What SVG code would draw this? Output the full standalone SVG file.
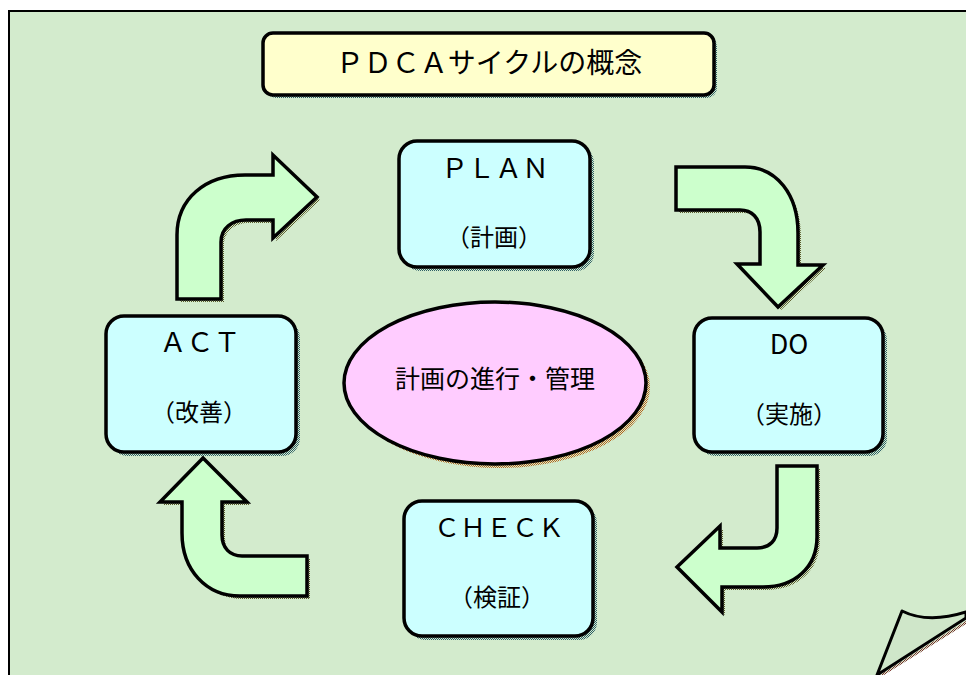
<svg xmlns="http://www.w3.org/2000/svg" xmlns:xlink="http://www.w3.org/1999/xlink" width="966" height="675" viewBox="0 0 966 675">
<defs>
<pattern id="shTeal" x="0" y="0" width="2" height="2" patternUnits="userSpaceOnUse">
<rect width="1" height="1" fill="#2f5f66"/>
<rect x="1" y="1" width="1" height="1" fill="#2f5f66"/>
</pattern>
<pattern id="shOlive" x="0" y="0" width="2" height="2" patternUnits="userSpaceOnUse">
<rect width="1" height="1" fill="#5a5a2a"/>
<rect x="1" y="1" width="1" height="1" fill="#5a5a2a"/>
</pattern>
<pattern id="shBrown" x="0" y="0" width="2" height="2" patternUnits="userSpaceOnUse">
<rect width="1" height="1" fill="#b5651d"/>
<rect x="1" y="1" width="1" height="1" fill="#b5651d"/>
</pattern>
<pattern id="shRed" x="0" y="0" width="2" height="2" patternUnits="userSpaceOnUse">
<rect width="1" height="1" fill="#7a2a2a"/>
<rect x="1" y="1" width="1" height="1" fill="#7a2a2a"/>
</pattern>
<path id="a1" d="M177,299 L177,235 C177,199 205,175 245,175 L273,175 L273,155 L317,197 L273,238 L273,220 L246,220 C232,220 221,228 221,242 L221,299 Z"/>
<path id="a2" d="M676,167 L745,167 C777,167 798,195 798,233 L798,265 L823,265 L778,307 L737,264 L760,264 L760,232 C760,218 752,210 740,210 L676,210 Z"/>
<path id="a3" d="M777,466 L817,466 L817,537 C817,567 795,587 763,587 L722,587 L722,612 L677,567 L720,526 L720,548 L757,548 C770,548 777,540 777,528 Z"/>
<path id="a4" d="M203,458 L247,502 L222,502 L222,535 C222,548 230,556 242,556 L307,556 L307,596 L240,596 C206,596 182,570 182,533 L182,502 L160,502 Z"/>
</defs>
<style>
.box{fill:#ccffff;stroke:#000;stroke-width:3.5}
.shb{fill:url(#shTeal)}
.arr{fill:#ccffcc;stroke:#000;stroke-width:3.5;stroke-linejoin:miter}
.sha{fill:url(#shOlive)}
.pg{fill:#d3ebcd}
.t{font-family:"Noto Sans CJK JP","Noto Sans",sans-serif;font-weight:400;fill:#000;text-anchor:middle}
</style>

<g id="page">
<rect x="9" y="11" width="975" height="690" class="pg" stroke="#000" stroke-width="2"/>
<path d="M880,675 L966,621 L966,675 Z" fill="url(#shRed)"/>
<path d="M884,675 L966,624 L966,675 Z" fill="#fff"/>
<path d="M877,675 L902,611 Q928,624 966,612 L966,618 Z" fill="#cfe6c9" stroke="#000" stroke-width="3" stroke-linejoin="round"/>
</g>

<g id="title">
<rect x="266" y="36" width="451" height="62" rx="10" class="shb"/>
<rect x="263" y="33" width="451" height="62" rx="10" fill="#ffffcc" stroke="#000" stroke-width="3.5"/>
<text x="489" y="73" class="t" font-size="28">ＰＤＣＡサイクルの概念</text>
</g>

<g id="connectors">
<use xlink:href="#a1" class="sha" transform="translate(3,3)"/>
<use xlink:href="#a2" class="sha" transform="translate(3,3)"/>
<use xlink:href="#a3" class="sha" transform="translate(3,3)"/>
<use xlink:href="#a4" class="sha" transform="translate(3,3)"/>
<use xlink:href="#a1" class="arr"/>
<use xlink:href="#a2" class="arr"/>
<use xlink:href="#a3" class="arr"/>
<use xlink:href="#a4" class="arr"/>
</g>

<g id="plan">
<rect x="403" y="145" width="191" height="126" rx="18" class="shb"/>
<rect x="399" y="141" width="191" height="126" rx="18" class="box"/>
<text x="495" y="178" class="t" font-size="27">ＰＬＡＮ</text>
<text x="494" y="246" class="t" font-size="24">（計画）</text>
</g>

<g id="do">
<rect x="698" y="322" width="189" height="134" rx="18" class="shb"/>
<rect x="694" y="318" width="189" height="134" rx="18" class="box"/>
<text x="789" y="354" class="t" font-size="27">DO</text>
<text x="789" y="423" class="t" font-size="24">（実施）</text>
</g>

<g id="check">
<rect x="408" y="505" width="189" height="135" rx="18" class="shb"/>
<rect x="404" y="501" width="189" height="135" rx="18" class="box"/>
<text x="499" y="537" class="t" font-size="26">ＣＨＥＣＫ</text>
<text x="497" y="606" class="t" font-size="24">（検証）</text>
</g>

<g id="act">
<rect x="110" y="320" width="190" height="136" rx="18" class="shb"/>
<rect x="106" y="316" width="190" height="136" rx="18" class="box"/>
<text x="200" y="352" class="t" font-size="27">ＡＣＴ</text>
<text x="199" y="421" class="t" font-size="24">（改善）</text>
</g>

<g id="center">
<ellipse cx="499" cy="387" rx="151" ry="81" fill="url(#shBrown)"/>
<ellipse cx="495" cy="383" rx="151" ry="81" fill="#ffccff" stroke="#000" stroke-width="3.5"/>
<text x="495" y="388" class="t" font-size="25">計画の進行・管理</text>
</g>
</svg>
